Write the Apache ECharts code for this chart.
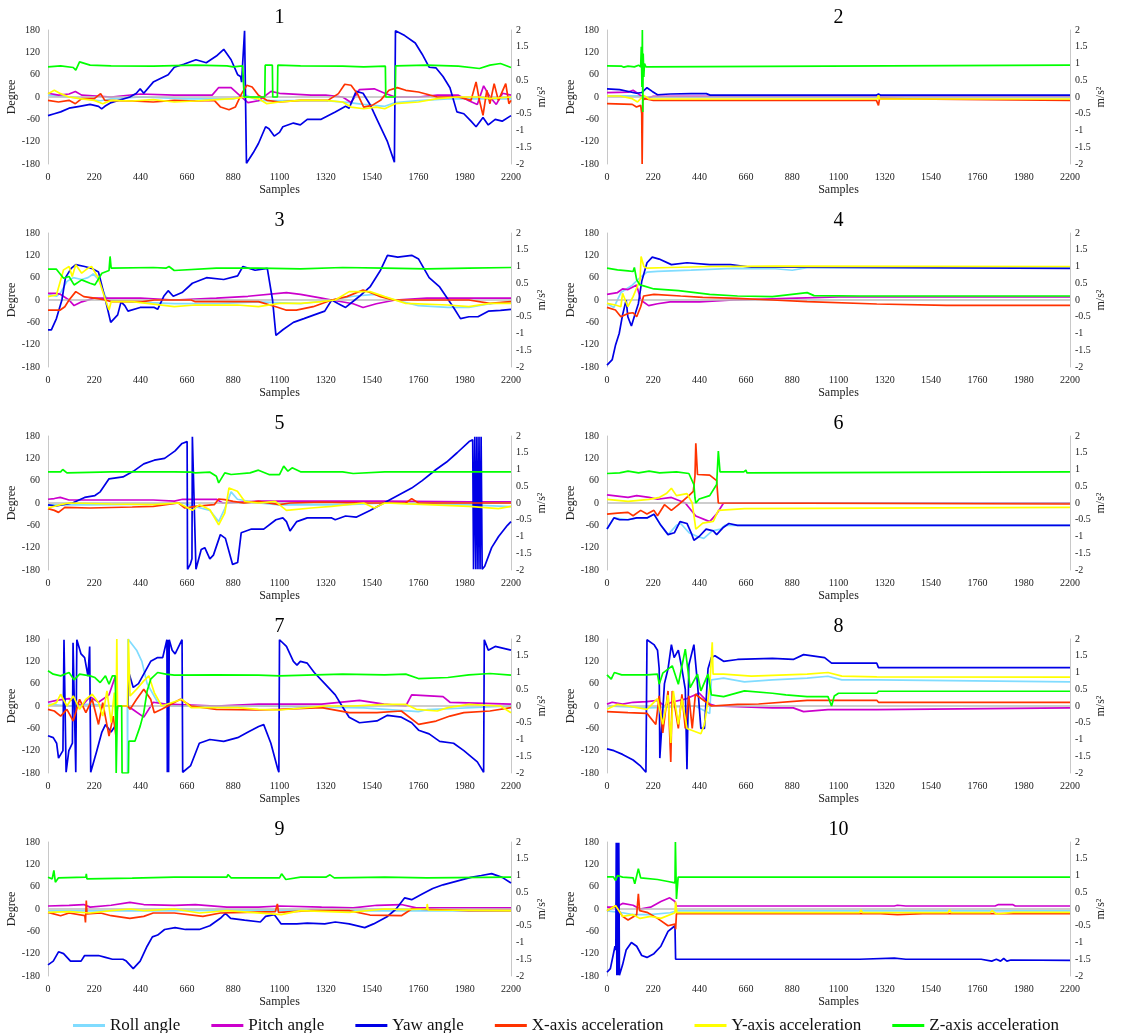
<!DOCTYPE html>
<html>
<head>
<meta charset="utf-8">
<script src="https://cdn.jsdelivr.net/npm/echarts@6/dist/echarts.min.js"></script>
<style>html,body{margin:0;padding:0;background:#fff}#c{width:1126px;height:1033px}</style>
</head>
<body>
<div id="c"></div>
<script>
// ---------- tick labels ----------
const X_TICKS = [0,220,440,660,880,1100,1320,1540,1760,1980,2200];
const DEG_TICKS = [-180,-120,-60,0,60,120,180];
const ACC_TICKS = [-2,-1.5,-1,-0.5,0,0.5,1,1.5,2];
const SERIES_NAMES = ['Roll angle','Pitch angle','Yaw angle','X-axis acceleration','Y-axis acceleration','Z-axis acceleration'];
const PANEL_TITLES = ['1','2','3','4','5','6','7','8','9','10'];

// ---------- panel 1 ----------
const P1_ROLL = [[0,5],[100,0],[250,-10],[300,-5],[440,0],[660,-5],[880,-5],[940,5],[1000,-10],[1100,-10],[1320,-10],[1430,-15],[1500,-20],[1600,-25],[1650,-15],[1760,-10],[1900,-5],[2200,-5]];
const P1_PITCH = [[0,10],[50,5],[100,8],[130,15],[160,5],[300,0],[440,8],[600,5],[780,5],[810,25],[870,25],[900,10],[950,-15],[1000,-10],[1060,15],[1100,10],[1250,5],[1320,5],[1400,0],[1440,-15],[1480,20],[1550,22],[1600,10],[1650,0],[1760,0],[1850,5],[1950,5],[2000,-10],[2040,-20],[2070,30],[2100,0],[2130,-20],[2160,10],[2200,5]];
const P1_YAW = [[0,-50],[30,-45],[60,-40],[100,-30],[150,-25],[200,-20],[240,-25],[255,-32],[270,-25],[300,-15],[389,0],[420,10],[438,22],[455,10],[500,40],[571,60],[600,80],[645,88],[703,100],[752,92],[800,110],[835,128],[870,100],[901,60],[915,55],[920,40],[925,90],[934,178],[938,178],[943,-178],[975,-150],[1000,-125],[1034,-80],[1050,-85],[1075,-105],[1100,-95],[1116,-80],[1166,-70],[1199,-75],[1232,-60],[1298,-60],[1365,-40],[1414,-25],[1431,-30],[1464,15],[1497,10],[1530,-20],[1563,-60],[1613,-120],[1646,-175],[1651,178],[1695,165],[1745,145],[1778,115],[1811,80],[1844,78],[1877,55],[1910,25],[1943,-40],[1976,-45],[2010,-65],[2034,-80],[2067,-55],[2092,-75],[2125,-60],[2158,-65],[2200,-50]];
const P1_X = [[0,-0.1],[50,-0.15],[100,-0.1],[130,-0.2],[160,-0.05],[220,-0.05],[250,0.1],[270,-0.1],[400,-0.12],[500,-0.15],[600,-0.1],[700,-0.12],[790,-0.1],[820,-0.3],[860,-0.38],[890,-0.3],[920,0.1],[945,0.35],[970,0.3],[1000,0.05],[1040,-0.1],[1100,-0.15],[1200,-0.1],[1330,-0.1],[1380,0.1],[1410,0.38],[1440,0.35],[1470,0.1],[1500,-0.3],[1540,-0.25],[1580,-0.1],[1620,0.2],[1660,0.28],[1700,0.2],[1760,0.15],[1850,0],[1950,0],[2010,-0.1],[2034,0.45],[2050,-0.1],[2067,-0.55],[2085,0.2],[2100,-0.2],[2120,0.4],[2140,-0.1],[2175,0.4],[2190,-0.2],[2200,-0.1]];
const P1_Y = [[0,0.1],[30,0.2],[60,0.1],[100,0],[150,-0.05],[220,-0.1],[260,-0.2],[300,-0.1],[400,-0.12],[500,-0.08],[600,-0.15],[700,-0.12],[800,-0.08],[880,-0.05],[940,0],[1000,-0.05],[1040,-0.2],[1100,-0.15],[1200,-0.1],[1320,-0.1],[1400,-0.15],[1440,-0.3],[1500,-0.35],[1560,-0.3],[1600,-0.35],[1650,-0.2],[1760,-0.15],[1850,-0.05],[1950,0],[2050,0],[2100,-0.05],[2200,0]];
const P1_Z = [[0,0.9],[60,0.93],[120,0.88],[132,0.8],[150,1.05],[200,0.95],[300,0.93],[500,0.92],[700,0.95],[850,0.93],[880,0.9],[925,0.93],[932,0],[1030,0],[1032,0.95],[1066,0.95],[1068,0],[1090,0],[1092,0.95],[1200,0.93],[1400,0.92],[1500,0.9],[1603,0.92],[1605,0],[1650,0],[1652,0.93],[1800,0.95],[1950,0.92],[2050,0.85],[2100,0.95],[2150,1.0],[2200,0.88]];

// ---------- panel 2 ----------
const P2_ROLL = [[0,3],[150,3],[180,0],[2200,-2]];
const P2_PITCH = [[0,12],[100,13],[124,18],[150,8],[180,-5],[220,2],[2200,2]];
const P2_YAW = [[0,22],[60,20],[140,10],[165,12],[190,25],[215,15],[240,6],[300,8],[400,9],[472,9],[490,5],[1280,5],[1290,8],[1300,5],[2200,5]];
const P2_X = [[0,-0.2],[120,-0.22],[140,-0.3],[160,-0.25],[165,-0.5],[167,-2],[170,-0.1],[180,-0.05],[220,-0.1],[1280,-0.1],[1290,-0.25],[1295,-0.05],[1300,-0.1],[2200,-0.1]];
const P2_Y = [[0,0.03],[60,0.03],[120,-0.05],[145,-0.15],[160,-0.05],[175,0.05],[200,-0.06],[1285,-0.06],[1290,0.05],[1295,-0.06],[2200,-0.06]];
const P2_Z = [[0,0.93],[70,0.92],[80,0.89],[100,0.92],[130,0.9],[150,0.95],[160,0.9],[163,1.5],[166,0.3],[168,2],[170,-0.45],[172,1.3],[175,0.6],[178,1.0],[185,0.9],[190,0.95],[2200,0.95]];

// ---------- panel 3 ----------
const P3_ROLL = [[0,15],[40,10],[60,20],[90,50],[120,60],[160,55],[190,60],[215,70],[240,55],[273,10],[290,0],[400,-5],[600,-10],[800,-10],[1000,-5],[1200,-10],[1350,0],[1450,10],[1550,15],[1650,0],[1760,-15],[1900,-20],[2000,-20],[2100,-10],[2200,-5]];
const P3_PITCH = [[0,18],[40,18],[60,15],[100,0],[124,-15],[160,-5],[220,5],[440,5],[600,0],[800,5],[950,10],[1133,20],[1200,15],[1300,5],[1348,0],[1450,-10],[1497,-20],[1560,-10],[1650,0],[1800,5],[2000,5],[2200,5]];
const P3_YAW = [[0,-80],[16,-80],[40,-50],[66,0],[83,60],[110,85],[132,95],[174,90],[207,85],[240,75],[273,0],[298,-60],[331,-40],[347,-5],[365,-15],[380,-30],[438,-20],[505,-20],[521,-25],[550,10],[571,25],[595,10],[637,20],[686,45],[753,60],[835,55],[901,65],[926,90],[984,80],[1042,85],[1067,0],[1083,-95],[1116,-80],[1166,-60],[1216,-50],[1265,-40],[1315,-30],[1348,0],[1380,-10],[1414,-20],[1480,10],[1530,35],[1580,80],[1613,120],[1662,115],[1700,118],[1728,120],[1761,110],[1811,60],[1861,35],[1927,-20],[1960,-50],[2000,-45],[2043,-45],[2092,-30],[2150,-28],[2200,-25]];
const P3_X = [[0,-0.3],[58,-0.3],[80,-0.2],[100,0],[132,0.25],[170,0.1],[230,0.05],[273,0],[300,-0.05],[450,-0.05],[505,0],[680,0],[700,-0.05],[1000,-0.05],[1083,-0.2],[1130,-0.3],[1180,-0.3],[1260,-0.2],[1348,0],[1420,0.1],[1497,0.3],[1540,0.2],[1580,0.1],[1640,0],[2000,0],[2100,-0.1],[2200,-0.05]];
const P3_Y = [[0,0.1],[40,0.15],[74,0.9],[100,1.0],[115,0.7],[132,1.05],[160,0.8],[190,0.95],[207,1.0],[240,0.65],[273,0],[290,-0.3],[300,-0.05],[400,-0.05],[600,-0.2],[700,-0.15],[900,-0.15],[1000,-0.2],[1100,-0.1],[1200,-0.1],[1300,-0.05],[1365,0],[1431,0.25],[1530,0.25],[1600,0.1],[1700,-0.1],[1900,-0.15],[2000,-0.2],[2100,-0.1],[2200,-0.1]];
const P3_Z = [[0,0.92],[40,0.92],[74,0.65],[100,0.7],[124,0.45],[160,0.6],[200,0.5],[223,0.45],[256,0.8],[290,0.88],[295,1.3],[300,0.95],[500,0.97],[560,0.95],[575,1.0],[600,0.88],[800,0.95],[1000,0.95],[1200,0.93],[1400,0.97],[1600,0.95],[1800,0.93],[2000,0.95],[2200,0.97]];

// ---------- panel 4 ----------
const P4_ROLL = [[0,-10],[33,-20],[66,20],[120,40],[157,60],[190,75],[240,77],[400,80],[600,85],[800,84],[880,80],[950,87],[2200,87]];
const P4_PITCH = [[0,15],[50,20],[74,30],[100,28],[141,40],[160,0],[198,-15],[240,-10],[300,-5],[440,-5],[600,0],[900,5],[1100,8],[2200,8]];
const P4_YAW = [[0,-175],[25,-160],[41,-120],[58,-90],[74,-40],[91,0],[99,-45],[116,-70],[132,-40],[149,-10],[165,50],[190,100],[215,115],[248,110],[306,95],[380,100],[488,95],[587,95],[686,88],[900,88],[2200,85]];
const P4_X = [[0,-0.22],[40,-0.3],[66,-0.5],[100,-0.4],[124,-0.38],[141,-0.5],[160,-0.2],[174,0.12],[223,0.17],[350,0.12],[455,0.08],[620,0.05],[786,0],[951,-0.05],[1282,-0.12],[1613,-0.16],[2200,-0.16]];
const P4_Y = [[0,-0.1],[40,-0.15],[66,-0.2],[74,0.2],[99,-0.2],[124,0.1],[157,0.6],[162,1.3],[175,1.0],[190,0.95],[300,0.97],[500,1.0],[800,1.01],[2200,1.0]];
const P4_Z = [[0,0.95],[50,0.9],[100,0.87],[124,0.85],[130,0.97],[141,0.6],[157,0.45],[174,0.42],[223,0.33],[340,0.28],[488,0.17],[620,0.12],[786,0.1],[951,0.22],[984,0.13],[1200,0.12],[2200,0.12]];

// ---------- panel 5 ----------
const P5_ROLL = [[0,-5],[200,-5],[500,-3],[640,0],[700,-10],[770,-20],[811,-50],[840,-15],[870,30],[900,10],[1000,0],[1100,-5],[1400,-5],[1600,0],[2000,-5],[2200,-10]];
const P5_PITCH = [[0,10],[30,12],[58,15],[100,8],[500,8],[600,5],[640,10],[800,10],[830,0],[900,2],[1000,5],[1300,5],[1600,5],[2000,3],[2200,3]];
const P5_YAW = [[0,-5],[40,-8],[116,0],[174,15],[223,20],[248,30],[290,65],[356,70],[405,85],[455,105],[505,115],[554,120],[604,140],[637,160],[661,165],[663,-178],[676,-165],[684,-150],[686,178],[692,178],[703,-178],[728,-125],[745,-120],[769,-150],[786,-140],[819,-85],[843,-95],[877,-165],[901,-160],[918,-80],[967,-70],[1025,-70],[1083,-45],[1116,-40],[1133,-50],[1150,-75],[1182,-50],[1232,-40],[1348,-40],[1365,-45],[1414,-35],[1464,-38],[1530,-20],[1596,0],[1662,20],[1728,40],[1778,60],[1844,90],[1894,110],[1944,135],[2001,165],[2018,170],[2022,-178],[2028,178],[2033,-178],[2038,178],[2043,-178],[2048,178],[2053,-178],[2058,178],[2063,-178],[2075,-170],[2108,-120],[2141,-90],[2183,-60],[2200,-50]];
const P5_X = [[0,-0.17],[30,-0.22],[50,-0.28],[80,-0.13],[200,-0.15],[400,-0.12],[500,-0.1],[620,0],[650,-0.15],[700,-0.1],[790,-0.05],[811,0.12],[840,0.1],[880,0.05],[930,0],[1000,0.05],[1100,-0.05],[1150,0],[1300,0.03],[1500,0],[1700,0],[1728,0.13],[1760,0],[1900,0],[2200,0]];
const P5_Y = [[0,-0.15],[60,-0.05],[100,0],[300,-0.03],[500,-0.05],[620,0],[686,-0.22],[720,-0.05],[769,-0.2],[811,-0.65],[840,-0.3],[860,0.45],[900,0.35],[934,0.05],[1000,0],[1080,0.05],[1133,-0.22],[1250,-0.15],[1348,-0.1],[1500,0],[1550,-0.15],[1600,0],[1800,-0.05],[2000,-0.1],[2140,-0.17],[2200,-0.1]];
const P5_Z = [[0,0.93],[60,0.93],[70,1.0],[90,0.9],[300,0.93],[600,0.93],[680,0.92],[700,0.9],[770,0.92],[800,0.8],[811,0.6],[840,0.9],[870,0.85],[960,0.9],[1000,0.98],[1050,0.85],[1100,0.85],[1120,1.1],[1140,0.95],[1160,1.05],[1200,0.93],[1400,0.93],[1450,0.88],[1600,0.93],[2200,0.93]];

// ---------- panel 6 ----------
const P6_ROLL = [[0,-70],[33,-40],[100,-45],[141,-40],[190,-40],[223,-30],[256,-60],[290,-85],[330,-60],[350,-55],[390,-80],[430,-90],[460,-95],[500,-75],[540,-70],[560,-60],[2200,-60]];
const P6_PITCH = [[0,22],[100,15],[141,20],[200,15],[240,10],[306,15],[372,0],[422,-35],[488,-50],[520,-30],[554,0],[2200,0]];
const P6_YAW = [[0,-70],[33,-40],[60,-45],[100,-45],[141,-40],[190,-40],[223,-30],[256,-60],[290,-85],[320,-80],[347,-50],[380,-55],[400,-80],[413,-100],[438,-90],[471,-70],[505,-75],[521,-85],[554,-65],[579,-55],[620,-60],[2200,-60]];
const P6_X = [[0,-0.33],[50,-0.3],[100,-0.28],[124,-0.38],[160,-0.22],[190,-0.33],[223,-0.22],[240,-0.38],[273,-0.05],[306,-0.22],[340,-0.05],[389,0.22],[410,0.35],[418,0.8],[422,1.78],[430,0.85],[488,0.83],[521,0.67],[529,0],[2200,-0.03]];
const P6_Y = [[0,0.11],[100,0.05],[200,0.11],[250,0.17],[282,0.28],[306,0.44],[330,0.22],[380,0.28],[405,0],[422,-0.78],[455,-0.6],[505,-0.55],[529,-0.22],[654,-0.17],[2200,-0.13]];
const P6_Z = [[0,0.88],[60,0.9],[100,0.95],[150,0.9],[200,0.95],[250,0.9],[330,0.93],[389,0.88],[413,0.55],[418,0.15],[422,0],[438,0.12],[488,0.22],[521,0.55],[529,1.55],[537,0.93],[650,0.93],[660,0.98],[665,0.9],[2200,0.93]];

// ---------- panel 7 ----------
const P7_ROLL = [[0,5],[100,0],[200,5],[300,0],[377,0],[378,-180],[380,180],[421,150],[446,120],[471,60],[521,10],[580,0],[1000,0],[1500,-5],[1760,-15],[1800,-10],[2200,0]];
const P7_PITCH = [[0,10],[40,15],[100,20],[160,0],[200,25],[240,10],[290,30],[320,80],[325,0],[378,0],[405,-10],[455,-30],[500,10],[560,5],[800,0],[1000,5],[1300,5],[1480,15],[1596,5],[1700,0],[1728,30],[1877,25],[1910,10],[2200,5]];
const P7_YAW = [[0,-80],[25,-85],[41,-100],[50,-140],[71,-120],[76,178],[80,178],[86,-178],[99,-120],[116,-100],[119,170],[127,170],[132,-178],[137,178],[157,140],[174,130],[190,80],[198,160],[203,-178],[232,-120],[256,-70],[273,-50],[300,-70],[323,-50],[330,0],[380,0],[384,90],[405,50],[430,60],[488,120],[521,130],[545,130],[565,178],[567,-178],[570,178],[573,-178],[576,178],[590,150],[604,140],[637,178],[640,-178],[678,-160],[719,-100],[769,-90],[835,-95],[901,-85],[951,-70],[1001,-55],[1025,-50],[1059,-100],[1092,-170],[1097,-178],[1100,178],[1133,160],[1166,120],[1183,110],[1199,120],[1232,115],[1265,90],[1315,60],[1365,30],[1397,0],[1431,-30],[1480,-45],[1563,-40],[1613,-25],[1679,-30],[1728,-45],[1761,-65],[1811,-75],[1861,-95],[1927,-100],[1976,-120],[2040,-150],[2070,-178],[2073,178],[2092,150],[2125,160],[2200,150]];
const P7_X = [[0,-0.1],[30,-0.15],[60,-0.3],[90,-0.1],[120,-0.45],[150,0.2],[180,-0.2],[210,0.2],[240,-0.55],[260,0.1],[290,-0.9],[310,-0.3],[323,-0.9],[330,0],[378,0],[390,-0.1],[421,0.2],[455,0.5],[488,0.2],[505,-0.2],[540,-0.1],[629,0.2],[680,0],[800,-0.1],[1000,-0.12],[1100,-0.1],[1300,-0.05],[1431,-0.2],[1563,-0.2],[1679,-0.15],[1761,-0.55],[1844,-0.45],[1910,-0.3],[1976,-0.2],[2100,-0.15],[2200,-0.05]];
const P7_Y = [[0,0],[40,0.1],[60,0.35],[90,0],[120,0.3],[150,-0.1],[180,0.2],[210,0.35],[240,0.1],[260,-0.3],[280,0.45],[300,-0.5],[315,0.4],[323,-0.7],[327,2],[330,0],[378,0],[382,2],[390,0.3],[421,0.5],[455,0.75],[479,0.9],[505,0.4],[540,0],[637,0.2],[680,-0.05],[900,-0.05],[1000,-0.1],[1100,-0.12],[1320,0],[1450,0],[1600,0.05],[1700,0.05],[1750,-0.1],[1850,-0.15],[1900,-0.05],[2000,0.05],[2150,0],[2200,-0.2]];
const P7_Z = [[0,1.05],[25,0.95],[60,0.9],[100,1.0],[124,0.78],[150,0.95],[200,0.9],[223,0.85],[248,0.7],[273,0.9],[290,0.65],[306,0.9],[320,0.9],[324,-2],[330,0],[350,0],[352,-2],[382,-2],[384,-1.05],[413,-1.05],[438,-0.6],[455,-0.2],[471,0.45],[488,0.8],[521,1.0],[560,0.95],[600,0.92],[800,0.93],[1000,0.92],[1100,0.9],[1400,0.95],[1600,0.93],[1700,0.95],[1760,0.82],[1900,0.85],[2000,0.93],[2100,0.97],[2200,0.92]];

// ---------- panel 8 ----------
const P8_ROLL = [[0,0],[200,-5],[420,0],[488,-20],[496,70],[554,75],[653,65],[786,70],[951,75],[1050,80],[1116,70],[1282,70],[1290,65],[2200,65]];
const P8_PITCH = [[0,5],[25,10],[74,5],[124,10],[190,12],[240,15],[273,0],[306,10],[380,20],[438,35],[488,5],[520,0],[786,-5],[885,-5],[934,-15],[1050,-10],[1282,-10],[1290,-5],[2200,-5]];
const P8_YAW = [[0,-115],[33,-120],[74,-130],[124,-145],[157,-160],[185,-178],[190,178],[223,165],[240,150],[248,100],[251,-140],[273,60],[290,100],[306,165],[319,130],[339,150],[356,100],[372,45],[380,-170],[389,110],[413,165],[430,60],[446,-60],[463,-60],[480,100],[496,130],[513,135],[554,120],[620,125],[786,128],[885,125],[934,138],[1034,130],[1067,115],[1282,115],[1290,103],[2200,103]];
const P8_X = [[0,-0.17],[100,-0.2],[190,-0.22],[232,-0.55],[248,0.3],[265,-0.8],[290,0.45],[303,-1.67],[310,0.45],[339,-0.67],[356,0.35],[372,-0.67],[389,0.3],[405,-0.67],[420,0.35],[496,0],[620,0.05],[720,0.06],[951,0.17],[1100,0.17],[1282,0.17],[1290,0.11],[2200,0.11]];
const P8_Y = [[0,-0.1],[50,0.05],[100,0],[190,-0.1],[240,0.22],[265,-0.55],[290,0.33],[303,-1.1],[315,0.45],[339,-0.55],[356,0.22],[380,-0.67],[446,-0.83],[463,-0.55],[488,0.55],[500,1.9],[504,0.95],[554,0.95],[686,0.89],[951,0.95],[1050,1.0],[1116,0.89],[1282,0.87],[1290,0.87],[2200,0.86]];
const P8_Z = [[0,0.93],[20,0.8],[35,1.0],[70,0.93],[190,0.93],[240,0.95],[248,0.65],[265,0.98],[310,1.2],[339,0.65],[372,1.7],[395,0.55],[430,0.95],[446,0.45],[480,0.95],[496,0.33],[554,0.28],[653,0.45],[786,0.38],[850,0.33],[951,0.28],[1050,0.28],[1067,0],[1080,0.3],[1100,0.38],[1282,0.38],[1290,0.44],[2200,0.44]];

// ---------- panel 9 ----------
const P9_ROLL = [[0,-5],[500,-5],[1000,-3],[1500,-5],[2200,-5]];
const P9_PITCH = [[0,8],[100,10],[170,12],[200,5],[300,10],[389,18],[455,12],[600,10],[700,12],[850,5],[1000,5],[1100,8],[1300,5],[1450,3],[1563,10],[1679,12],[1750,3],[2200,3]];
const P9_YAW = [[0,-150],[25,-140],[50,-115],[74,-120],[107,-140],[157,-140],[174,-125],[240,-125],[273,-130],[306,-135],[356,-135],[372,-140],[405,-160],[438,-140],[471,-100],[496,-75],[521,-70],[554,-55],[604,-50],[653,-55],[719,-55],[769,-45],[819,-25],[843,-12],[868,-25],[934,-30],[1009,-35],[1034,-20],[1075,-15],[1108,-40],[1182,-40],[1232,-38],[1315,-40],[1365,-35],[1431,-40],[1505,-50],[1547,-40],[1613,-20],[1654,0],[1695,30],[1728,25],[1778,40],[1828,55],[1877,65],[1943,75],[2009,85],[2059,90],[2108,95],[2158,85],[2200,70]];
const P9_X = [[0,-0.1],[60,-0.2],[100,-0.12],[175,-0.2],[178,-0.4],[182,0.25],[185,-0.15],[250,-0.12],[300,-0.2],[389,-0.28],[455,-0.22],[500,-0.12],[600,-0.12],[736,-0.22],[819,-0.12],[934,-0.1],[1080,-0.08],[1090,0.15],[1095,-0.1],[1250,-0.05],[1431,-0.05],[1530,-0.18],[1679,-0.2],[1728,0],[2000,-0.05],[2200,-0.05]];
const P9_Y = [[0,-0.1],[100,-0.08],[200,-0.12],[300,-0.05],[389,0],[455,-0.05],[600,0],[719,-0.12],[850,-0.05],[1108,-0.17],[1200,-0.05],[1431,-0.1],[1600,0],[1700,-0.02],[1800,0],[1802,0.15],[1806,-0.03],[2200,-0.05]];
const P9_Z = [[0,0.95],[20,0.9],[28,1.15],[35,0.8],[50,0.93],[180,0.95],[182,1.05],[185,0.9],[400,0.92],[600,0.95],[850,0.95],[855,1.03],[870,0.93],[1100,0.93],[1110,1.05],[1130,0.88],[1200,0.95],[1320,0.95],[1340,1.02],[1360,0.93],[1600,0.95],[1800,0.93],[2200,0.95]];

// ---------- panel 10 ----------
const P10_ROLL = [[0,-5],[74,-10],[124,-15],[200,-15],[300,-10],[330,-5],[2200,-5]];
const P10_PITCH = [[0,5],[41,5],[74,15],[124,10],[157,0],[207,5],[256,20],[298,30],[323,20],[330,8],[1365,8],[1380,10],[1420,8],[1844,8],[1860,12],[1927,12],[1940,8],[2200,8]];
const P10_YAW = [[0,-170],[16,-160],[38,-100],[42,-110],[44,178],[47,-178],[50,178],[53,-178],[56,178],[59,-178],[61,-178],[74,-150],[91,-110],[116,-90],[124,-85],[141,-100],[165,-125],[190,-130],[223,-120],[256,-100],[290,-60],[323,-45],[326,-135],[1200,-135],[1365,-132],[1420,-135],[1778,-135],[1828,-140],[1850,-135],[1870,-140],[1885,-133],[1900,-140],[1919,-137],[2200,-138]];
const P10_X = [[0,-0.05],[41,0.1],[74,-0.22],[100,-0.33],[141,-0.17],[149,0.45],[155,-0.05],[190,-0.1],[240,-0.28],[290,-0.5],[323,-0.45],[326,-0.6],[330,-0.14],[1300,-0.14],[1380,-0.17],[1500,-0.14],[2200,-0.14]];
const P10_Y = [[0,-0.05],[41,0.1],[74,-0.22],[124,-0.17],[157,-0.28],[207,-0.22],[256,-0.28],[323,-0.11],[326,0.22],[332,-0.11],[1200,-0.11],[1207,-0.03],[1214,-0.11],[1620,-0.11],[1628,-0.03],[1636,-0.11],[1820,-0.11],[1830,-0.05],[1850,-0.15],[1930,-0.1],[2200,-0.1]];
const P10_Z = [[0,0.96],[30,0.96],[41,0.85],[50,1.0],[74,0.95],[124,0.93],[132,0.75],[149,1.2],[160,0.93],[240,0.88],[290,0.82],[323,0.78],[325,2.0],[330,0.3],[338,0.95],[2200,0.95]];

const PANELS = [
  [P1_ROLL,P1_PITCH,P1_YAW,P1_X,P1_Y,P1_Z],
  [P2_ROLL,P2_PITCH,P2_YAW,P2_X,P2_Y,P2_Z],
  [P3_ROLL,P3_PITCH,P3_YAW,P3_X,P3_Y,P3_Z],
  [P4_ROLL,P4_PITCH,P4_YAW,P4_X,P4_Y,P4_Z],
  [P5_ROLL,P5_PITCH,P5_YAW,P5_X,P5_Y,P5_Z],
  [P6_ROLL,P6_PITCH,P6_YAW,P6_X,P6_Y,P6_Z],
  [P7_ROLL,P7_PITCH,P7_YAW,P7_X,P7_Y,P7_Z],
  [P8_ROLL,P8_PITCH,P8_YAW,P8_X,P8_Y,P8_Z],
  [P9_ROLL,P9_PITCH,P9_YAW,P9_X,P9_Y,P9_Z],
  [P10_ROLL,P10_PITCH,P10_YAW,P10_X,P10_Y,P10_Z]
];

// ---------- styling / layout ----------
const COLORS = ['#80dcff','#cc00cc','#0000e6','#ff3300','#ffff00','#00ff00'];
const FONT = 'Liberation Serif';
const COL_LEFT = [48, 607];
const ROW_TOP = 30, ROW_STEP = 203, PLOT_W = 463, PLOT_H = 134;

const grids = [], xAxes = [], yAxes = [], series = [], graphics = [];
PANELS.forEach((panel, i) => {
  const col = i % 2, row = Math.floor(i / 2);
  const left = COL_LEFT[col], top = ROW_TOP + row * ROW_STEP;
  grids.push({left: left, top: top, width: PLOT_W, height: PLOT_H, containLabel: false});
  graphics.push({type: 'text', x: left + PLOT_W / 2, y: top - 12, silent: true,
    style: {text: PANEL_TITLES[i], font: '20px "' + FONT + '"', fill: '#000', textAlign: 'center', textVerticalAlign: 'middle'}});
  xAxes.push({type: 'value', gridIndex: i, min: X_TICKS[0], max: X_TICKS[X_TICKS.length - 1],
    interval: X_TICKS[1] - X_TICKS[0],
    axisLine: {show: false}, axisTick: {show: false}, splitLine: {show: false},
    axisLabel: {fontFamily: FONT, fontSize: 10, color: '#222', margin: 8, formatter: v => String(v)},
    name: 'Samples', nameLocation: 'middle', nameGap: 20,
    nameTextStyle: {fontFamily: FONT, fontSize: 12, color: '#222'}});
  yAxes.push({type: 'value', gridIndex: i, position: 'left', min: DEG_TICKS[0], max: DEG_TICKS[DEG_TICKS.length - 1],
    interval: DEG_TICKS[1] - DEG_TICKS[0],
    axisLine: {show: true, onZero: false, lineStyle: {color: '#c8c8c8', width: 1}}, axisTick: {show: false}, splitLine: {show: false},
    axisLabel: {fontFamily: FONT, fontSize: 10, color: '#222', margin: 8},
    name: 'Degree', nameLocation: 'middle', nameGap: 24, nameRotate: 90,
    nameTextStyle: {fontFamily: FONT, fontSize: 12, color: '#222'}});
  yAxes.push({type: 'value', gridIndex: i, position: 'right', min: ACC_TICKS[0], max: ACC_TICKS[ACC_TICKS.length - 1],
    interval: ACC_TICKS[1] - ACC_TICKS[0],
    axisLine: {show: true, onZero: false, lineStyle: {color: '#c8c8c8', width: 1}}, axisTick: {show: false}, splitLine: {show: false},
    axisLabel: {fontFamily: FONT, fontSize: 10, color: '#222', margin: 5},
    name: 'm/s²', nameLocation: 'middle', nameGap: 23, nameRotate: 90,
    nameTextStyle: {fontFamily: FONT, fontSize: 12, color: '#222'}});
  panel.forEach((data, k) => {
    const s = {
      type: 'line', name: SERIES_NAMES[k], xAxisIndex: i, yAxisIndex: k < 3 ? 2 * i : 2 * i + 1,
      data: data, showSymbol: false, symbol: 'none', animation: false,
      lineStyle: {color: COLORS[k], width: 1.7}, itemStyle: {color: COLORS[k]}, z: 3 + k
    };
    if (k === 0) {
      s.markLine = {silent: true, symbol: ['none', 'none'], animation: false, label: {show: false},
        emphasis: {disabled: true},
        lineStyle: {color: '#bdbdbd', width: 1.5, type: 'solid'}, data: [{yAxis: 0}]};
    }
    series.push(s);
  });
});

const chart = echarts.init(document.getElementById('c'), null, {renderer: 'canvas'});
chart.setOption({
  animation: false,
  backgroundColor: '#fff',
  tooltip: {show: false},
  grid: grids, xAxis: xAxes, yAxis: yAxes, series: series,
  graphic: graphics,
  legend: {data: SERIES_NAMES, left: 68, top: 1012, icon: 'rect', itemWidth: 32, itemHeight: 3, itemGap: 31,
    textStyle: {fontFamily: FONT, fontSize: 17, color: '#111'}, selectedMode: false}
});
</script>
</body>
</html>
